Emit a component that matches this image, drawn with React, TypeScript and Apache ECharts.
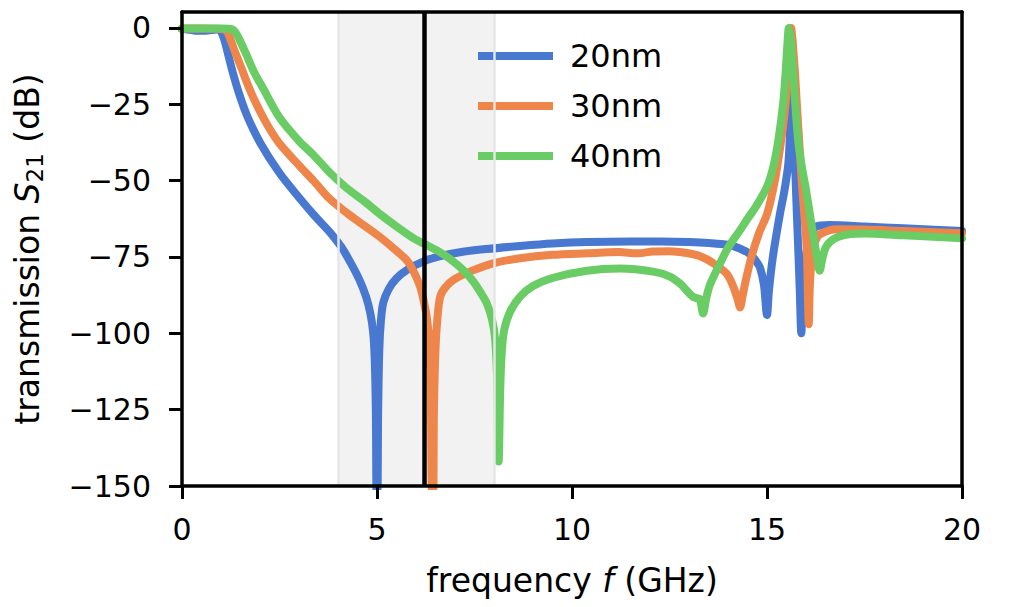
import React, { useEffect, useRef } from "react";
import * as echarts from "echarts";

const seriesNames = ["20nm", "30nm", "40nm"];
const seriesColors = ["#4878d0", "#ee854a", "#6acc64"];
const xTicks = [0, 5, 10, 15, 20];
const yTicks = [-150, -125, -100, -75, -50, -25, 0];
const xRange = [0, 20];
const yRange = [-150, 5.24];
const bandGHz = [4, 8];
const markerGHz = 6.2;

const s20nm: number[][] = [
  [0, -0.3], [0.3, -0.8], [0.6, -0.9], [0.9, -0.5], [1.0, -1.2], [1.1, -4.5], [1.2, -9.5], [1.3, -14.5],
  [1.45, -21], [1.66, -28.5], [2.0, -37.5], [2.5, -47.5], [3.0, -55.5], [3.4, -61.5], [3.8, -67], [4.1, -72],
  [4.35, -77.5], [4.55, -82.5], [4.72, -88], [4.83, -93.5], [4.9, -99.5], [4.94, -108], [4.97, -125], [4.99, -152],
  [5.01, -152], [5.03, -125], [5.06, -105], [5.1, -96], [5.16, -90], [5.3, -85.5], [5.5, -82], [5.8, -79],
  [6.18, -76.5], [6.6, -74.8], [7.2, -73.3], [7.8, -72.4], [8.67, -71.4], [9.5, -70.6], [10.4, -70.1],
  [11.5, -69.9], [12.3, -69.9], [13.0, -70.1], [13.5, -70.4], [14.0, -71], [14.3, -72.2], [14.56, -74],
  [14.7, -76], [14.82, -78.5], [14.92, -84], [15.0, -94], [15.05, -86], [15.15, -75], [15.33, -61],
  [15.45, -53], [15.55, -44], [15.6, -30], [15.64, -3], [15.68, -24], [15.72, -44], [15.76, -59], [15.8, -72],
  [15.84, -86], [15.88, -100], [15.92, -89], [16.0, -75], [16.1, -68], [16.27, -65], [16.6, -64.5],
  [17.5, -65], [18.5, -65.6], [20, -66.5],
];

const s30nm: number[][] = [
  [0, -0.2], [0.5, -0.2], [1.0, -0.3], [1.15, -1], [1.25, -4], [1.35, -7.5], [1.49, -12], [1.7, -19],
  [1.91, -25], [2.2, -32], [2.51, -38], [3.0, -45], [3.37, -50], [3.79, -56], [4.22, -60.5], [4.65, -64.5],
  [5.08, -68.5], [5.5, -73], [5.76, -76], [5.93, -79.5], [6.1, -84.5], [6.2, -89.5], [6.28, -95], [6.34, -103],
  [6.38, -120], [6.41, -152], [6.44, -152], [6.46, -125], [6.5, -105], [6.55, -95], [6.62, -88], [6.75, -85],
  [6.96, -82.5], [7.38, -79.8], [8.0, -77], [8.67, -75.4], [9.5, -74.3], [10.38, -73.8], [11.2, -73.4],
  [11.66, -73.8], [12.08, -73.2], [12.5, -73.1], [12.94, -73.7], [13.3, -74.8], [13.62, -77], [13.97, -80.5],
  [14.13, -84.5], [14.25, -89], [14.31, -91.5], [14.37, -88], [14.45, -83], [14.6, -75], [14.8, -67],
  [15.0, -61], [15.2, -50], [15.35, -38], [15.45, -28], [15.53, -17], [15.58, -8], [15.62, 0], [15.66, -5],
  [15.72, -15], [15.76, -24], [15.83, -38], [15.89, -50], [15.95, -60], [16.0, -68], [16.03, -76],
  [16.05, -88], [16.07, -97], [16.1, -84], [16.16, -74], [16.25, -69.5], [16.36, -67.5], [16.8, -65.9],
  [17.5, -66], [18.5, -66.5], [20, -67.2],
];

const s40nm: number[][] = [
  [0, -0.2], [0.5, -0.2], [1.0, -0.2], [1.3, -0.5], [1.4, -2], [1.5, -4.5], [1.66, -9], [1.85, -14.5],
  [2.09, -20], [2.51, -29.5], [3.0, -37], [3.37, -41.6], [3.8, -47.5], [4.22, -52.4], [4.65, -56.5],
  [5.08, -61], [5.5, -65], [5.93, -68.8], [6.18, -70.5], [6.62, -73.5], [6.96, -76.5], [7.21, -79.3],
  [7.47, -83], [7.65, -86.5], [7.81, -90], [7.95, -95.5], [8.03, -102], [8.08, -115], [8.12, -142],
  [8.16, -118], [8.2, -106], [8.26, -99], [8.41, -93], [8.67, -88], [9.0, -84.5], [9.52, -81.8],
  [10.38, -79.5], [11.23, -78.8], [12.08, -79.8], [12.51, -81.4], [12.8, -84], [12.94, -86], [13.1, -88],
  [13.2, -88.5], [13.28, -88.8], [13.36, -93.5], [13.45, -88], [13.54, -84], [13.8, -77], [14.0, -72],
  [14.31, -66.2], [14.5, -62.5], [14.74, -58], [15.0, -52], [15.17, -45], [15.3, -36], [15.42, -24],
  [15.48, -14], [15.52, -6], [15.56, 0], [15.6, -3], [15.66, -12], [15.72, -24], [15.8, -37], [15.9, -46],
  [16.0, -53], [16.1, -61], [16.2, -69], [16.28, -75], [16.35, -79.5], [16.42, -75.5], [16.5, -72],
  [16.62, -70], [16.8, -68.5], [17.13, -67.5], [17.5, -67.3], [18.5, -67.9], [20, -68.9],
];

const seriesData = [s20nm, s30nm, s40nm];

const FONT = "DejaVu Sans";

export default function App() {
  const ref = useRef<HTMLDivElement>(null);

  useEffect(() => {
    document.body.style.margin = "0";
    if (!ref.current) return;
    const chart = echarts.init(ref.current, null, { renderer: "svg" });

    const axisLine = { show: true, onZero: false, lineStyle: { color: "#000", width: 3.5 } };

    const curves = seriesNames.map((name, i) => ({
      name,
      type: "line",
      data: seriesData[i],
      showSymbol: false,
      symbol: "none",
      smooth: 0.3,
      z: 2,
      lineStyle: { color: seriesColors[i], width: 8, join: "round", cap: "round" },
      itemStyle: { color: seriesColors[i] },
    }));

    const option = {
      animation: false,
      backgroundColor: "#fff",
      textStyle: { fontFamily: FONT },
      grid: { left: 182, right: 50, top: 12, bottom: 121, containLabel: false },
      legend: {
        data: seriesNames,
        orient: "vertical",
        left: 473,
        top: 35,
        icon: "rect",
        itemWidth: 75,
        itemHeight: 8,
        itemGap: 18,
        textStyle: { fontSize: 32, color: "#000", fontFamily: FONT, padding: [0, 0, 0, 12] },
        selectedMode: false,
      },
      xAxis: [
        {
          type: "value",
          min: xRange[0],
          max: xRange[1],
          interval: 5,
          z: 10,
          axisLine,
          axisTick: { show: true, length: 13, lineStyle: { color: "#000", width: 3 }, customValues: xTicks },
          axisLabel: { fontSize: 30, color: "#000", fontFamily: FONT, margin: 28, customValues: xTicks },
          splitLine: { show: false },
        },
        {
          type: "value",
          position: "top",
          min: xRange[0],
          max: xRange[1],
          z: 10,
          axisLine,
          axisTick: { show: false },
          axisLabel: { show: false },
          splitLine: { show: false },
        },
      ],
      yAxis: [
        {
          type: "value",
          min: yRange[0],
          max: yRange[1],
          interval: 25,
          z: 10,
          axisLine,
          axisTick: { show: true, length: 13, lineStyle: { color: "#000", width: 3 }, customValues: yTicks },
          axisLabel: {
            fontSize: 30,
            color: "#000",
            fontFamily: FONT,
            margin: 31,
            customValues: yTicks,
            formatter: (v: number) => (v < 0 ? "\u2212" + Math.abs(v) : String(v)),
          },
          splitLine: { show: false },
        },
        {
          type: "value",
          position: "right",
          min: yRange[0],
          max: yRange[1],
          z: 10,
          axisLine,
          axisTick: { show: false },
          axisLabel: { show: false },
          splitLine: { show: false },
        },
      ],
      series: [
        {
          name: "band",
          type: "line",
          data: [],
          z: 1,
          silent: true,
          markArea: {
            silent: true,
            itemStyle: { color: "#f2f2f2" },
            data: [[{ xAxis: bandGHz[0] }, { xAxis: bandGHz[1] }]],
          },
          markLine: {
            silent: true,
            symbol: "none",
            label: { show: false },
            lineStyle: { color: "#e6e6e6", width: 2.5, type: "solid" },
            data: [{ xAxis: bandGHz[0] }, { xAxis: bandGHz[1] }],
          },
        },
        ...curves,
        {
          name: "marker",
          type: "line",
          data: [],
          z: 3,
          silent: true,
          markLine: {
            silent: true,
            symbol: "none",
            label: { show: false },
            lineStyle: { color: "#000", width: 4.5, type: "solid" },
            data: [{ xAxis: markerGHz }],
          },
        },
      ],
      graphic: [
        {
          type: "text",
          x: 27,
          y: 249,
          rotation: Math.PI / 2,
          style: {
            text: "transmission {i|S}{s|21} (dB)",
            fontSize: 33,
            fontFamily: FONT,
            fill: "#000",
            lineHeight: 38,
            align: "center",
            verticalAlign: "middle",
            rich: {
              i: { fontStyle: "italic", fontSize: 33, fontFamily: FONT, lineHeight: 38 },
              s: { fontSize: 23, fontFamily: FONT, lineHeight: 23, verticalAlign: "bottom" },
            },
          },
        },
        {
          type: "text",
          x: 572,
          y: 580,
          style: {
            text: "frequency {i|f} (GHz)",
            fontSize: 33,
            fontFamily: FONT,
            fill: "#000",
            lineHeight: 38,
            align: "center",
            verticalAlign: "middle",
            rich: {
              i: { fontStyle: "italic", fontSize: 33, fontFamily: FONT, lineHeight: 38 },
            },
          },
        },
      ],
    };

    chart.setOption(option as any);
    return () => chart.dispose();
  }, []);

  return <div ref={ref} style={{ width: 1012, height: 607 }} />;
}
